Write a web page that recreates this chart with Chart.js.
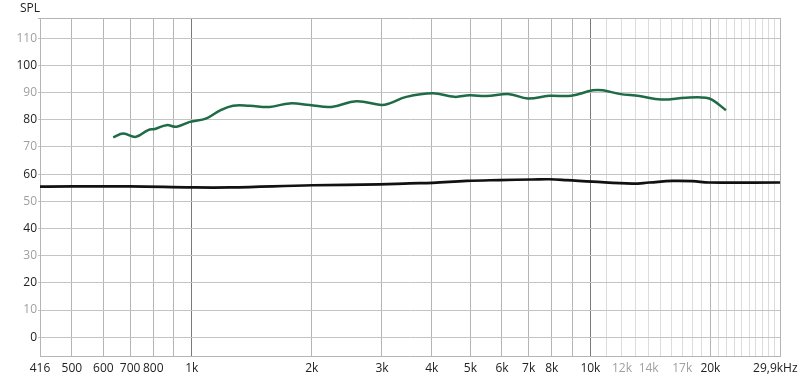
<!DOCTYPE html>
<html>
<head>
<meta charset="utf-8">
<script src="https://cdn.jsdelivr.net/npm/chart.js@4/dist/chart.umd.min.js"></script>
<style>
  body { margin: 0; background: #fff; }
  .wrap { position: relative; width: 800px; height: 381px; }
  .unit { position: absolute; left: 20px; top: 0; font: 12px/16px "Open Sans", "Noto Sans", sans-serif; color: #222; }
</style>
</head>
<body>
<div class="wrap">
  <canvas id="spl" width="800" height="381"></canvas>
  <div class="unit">SPL</div>
</div>
<script>
// frequency response
const greenFreq = [635, 673, 724, 777, 808, 864, 916, 989, 1088, 1175, 1269, 1397, 1567, 1760, 1976, 2240, 2588, 2988, 3135, 3452, 4026, 4562, 4973, 5480, 6268, 6965, 7887, 8949, 10138, 10740, 11820, 13280, 15040, 17370, 19500, 20270, 21880];
const greenSpl = [73.5, 74.9, 73.7, 76.2, 76.6, 78.0, 77.4, 79.2, 80.5, 83.3, 85.1, 85.1, 84.7, 86.0, 85.4, 84.7, 86.8, 85.4, 86.0, 88.4, 89.7, 88.4, 89.0, 88.7, 89.4, 87.8, 88.8, 88.8, 90.8, 90.8, 89.5, 88.7, 87.4, 88.1, 88.1, 87.2, 83.5];

const blackFreq = [416, 699, 1006, 1245, 2010, 2960, 3519, 4018, 4890, 5912, 7158, 7890, 8710, 10117, 12740, 14050, 16060, 18030, 19880, 29900];
const blackSpl = [55.4, 55.5, 55.1, 55.1, 55.9, 56.2, 56.6, 56.8, 57.5, 57.8, 58.0, 58.1, 57.8, 57.2, 56.5, 56.9, 57.5, 57.4, 56.9, 56.9];

// axis ticks
const freqGrid = [416, 500, 600, 700, 800, 900,
  1000, 2000, 3000, 4000, 5000, 6000, 7000, 8000, 9000,
  10000, 11000, 12000, 13000, 14000, 15000, 16000, 17000, 18000, 19000,
  20000, 21000, 22000, 23000, 24000, 25000, 26000, 27000, 28000, 29000, 29900];
const freqLabels = {416: '416', 500: '500', 600: '600', 700: '700', 800: '800',
  1000: '1k', 2000: '2k', 3000: '3k', 4000: '4k', 5000: '5k', 6000: '6k', 7000: '7k', 8000: '8k',
  10000: '10k', 12000: '12k', 14000: '14k', 17000: '17k', 20000: '20k', 29900: '29,9kHz   '};
const greyFreqLabels = [12000, 14000, 17000];
const splMin = -6.9, splMax = 117.4;
const splGrid = [0, 5, 10, 15, 20, 25, 30, 35, 40, 45, 50, 55, 60, 65, 70, 75, 80, 85, 90, 95, 100, 105, 110, 115];

const FONT = '"Open Sans", "Noto Sans", sans-serif';

const toPoints = (xs, ys) => xs.map((x, i) => ({ x: x, y: ys[i] }));

new Chart(document.getElementById('spl'), {
  type: 'line',
  data: {
    datasets: [
      {
        data: toPoints(blackFreq, blackSpl),
        borderColor: '#111',
        borderWidth: 2.7,
        pointRadius: 0,
        tension: 0.4
      },
      {
        data: toPoints(greenFreq, greenSpl),
        borderColor: '#1e6b46',
        borderWidth: 2.5,
        pointRadius: 0,
        tension: 0.4
      }
    ]
  },
  options: {
    responsive: false,
    animation: false,
    layout: { padding: { left: 0, right: 20, top: 18, bottom: 0 } },
    plugins: {
      legend: { display: false },
      tooltip: { enabled: false }
    },
    scales: {
      x: {
        type: 'logarithmic',
        min: 416,
        max: 29900,
        afterBuildTicks: (scale) => { scale.ticks = freqGrid.map(v => ({ value: v })); },
        afterFit: (scale) => { scale.height = 25; scale.paddingLeft = 0; scale.paddingRight = 0; },
        border: { display: true, color: '#b5b5b5' },
        grid: {
          drawTicks: false,
          lineWidth: 1,
          color: (ctx) => {
            const v = ctx.tick.value;
            if (v === 1000 || v === 10000) return '#7a7a7a';
            if (v > 10000 && v !== 20000 && v !== 29900) return '#dcdcdc';
            return '#b5b5b5';
          }
        },
        ticks: {
          autoSkip: false,
          maxRotation: 0,
          padding: 5,
          font: { family: FONT, size: 12 },
          color: (ctx) => greyFreqLabels.includes(ctx.tick.value) ? '#a0a0a0' : '#222',
          callback: (v) => freqLabels[v] || ''
        }
      },
      y: {
        min: splMin,
        max: splMax,
        afterBuildTicks: (scale) => { scale.ticks = splGrid.concat([splMax]).map(v => ({ value: v })); },
        afterFit: (scale) => { scale.width = 40; scale.paddingTop = 0; scale.paddingBottom = 0; },
        border: { display: true, color: '#b5b5b5' },
        grid: {
          tickLength: 2,
          lineWidth: 1,
          color: (ctx) => {
            const v = ctx.tick.value;
            if (v === splMax) return '#b5b5b5';
            return v % 10 === 0 ? '#c4c4c4' : '#e6e6e6';
          }
        },
        ticks: {
          padding: 1,
          font: { family: FONT, size: 12 },
          color: (ctx) => ctx.tick.value % 20 === 0 ? '#222' : '#a0a0a0',
          callback: (v) => (v % 10 === 0 && v <= 110) ? String(v) : ''
        }
      }
    }
  }
});
</script>
</body>
</html>
